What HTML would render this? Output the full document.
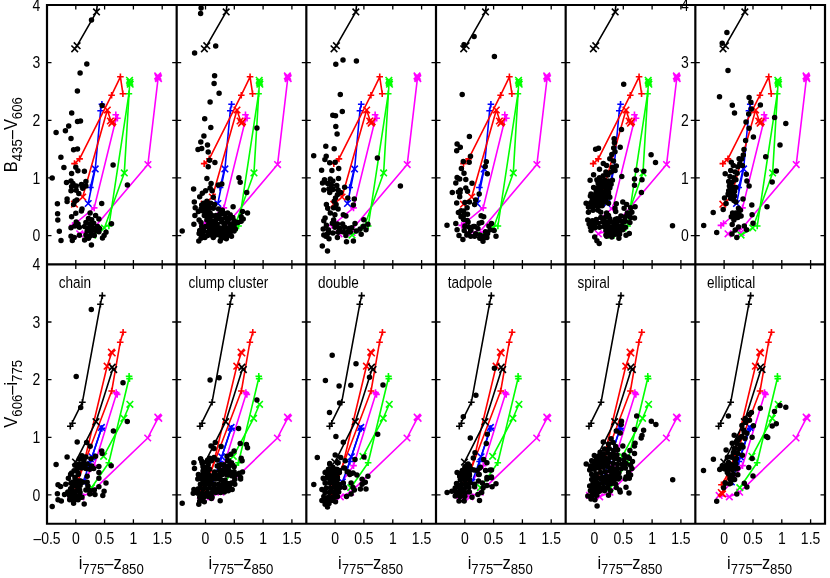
<!DOCTYPE html>
<html><head><meta charset="utf-8"><title>colour-colour diagrams</title>
<style>html,body{margin:0;padding:0;background:#fff}svg{display:block}text{font-family:"Liberation Sans",sans-serif;fill:#000}</style></head><body>
<svg width="830" height="578" viewBox="0 0 830 578">
<rect width="830" height="578" fill="#fff"/>
<defs>
<clipPath id="ct"><rect x="47.00" y="5.00" width="129.67" height="259.40"/></clipPath>
<clipPath id="cb"><rect x="47.00" y="264.40" width="129.67" height="259.35"/></clipPath>
<g id="tt" fill="none" stroke-width="1.6" stroke-linejoin="round" clip-path="url(#ct)"><path d="M158.2 77.3L147.9 164.6L92.7 229.5L79.7 233.8M154.4 72.6L161.0 79.2M154.4 79.2L161.0 72.6M154.8 73.9L161.4 80.5M154.8 80.5L161.4 73.9M155.2 75.3L161.8 81.9M155.2 81.9L161.8 75.3M144.6 161.3L151.2 167.9M144.6 167.9L151.2 161.3M89.4 229.2L96.0 235.8M89.4 235.8L96.0 229.2M76.4 230.5L83.0 237.1M76.4 237.1L83.0 230.5" stroke="#f0f"/><path d="M116.6 116.5L94.2 207.9L75.2 223.5L72.6 225.4M112.5 114.7H119.1M115.8 111.4V118.0M114.1 118.3H120.7M117.4 115.0V121.6M90.9 207.9H97.5M94.2 204.6V211.2M71.9 223.5H78.5M75.2 220.2V226.8M69.3 225.4H75.9M72.6 222.1V228.7" stroke="#f0f"/><path d="M129.8 81.5L124.3 172.9L104.4 228.0L92.7 235.1M126.2 77.0L132.8 83.6M126.2 83.6L132.8 77.0M126.6 79.0L133.2 85.6M126.6 85.6L133.2 79.0M126.9 80.9L133.5 87.5M126.9 87.5L133.5 80.9M121.0 169.6L127.6 176.2M121.0 176.2L127.6 169.6M101.1 224.7L107.7 231.3M101.1 231.3L107.7 224.7M89.4 231.8L96.0 238.4M89.4 238.4L96.0 231.8" stroke="#0f0"/><path d="M128.9 93.8L108.9 226.0M125.6 93.8H132.2M128.9 90.5V97.1M105.6 226.0H112.2M108.9 222.7V229.3" stroke="#0f0"/><path d="M95.2 168.9L88.2 203.5M91.9 165.6L98.5 172.2M91.9 172.2L98.5 165.6M84.9 200.2L91.5 206.8M84.9 206.8L91.5 200.2" stroke="#00f"/><path d="M101.9 104.2L100.6 110.7L95.5 166.5L90.4 187.5M98.6 104.2H105.2M101.9 100.9V107.5M97.3 110.7H103.9M100.6 107.4V114.0M87.1 187.5H93.7M90.4 184.2V190.8" stroke="#00f"/><path d="M74.5 163.6L79.6 158.9L111.6 95.2L120.4 76.8L122.9 93.7M71.2 163.6H77.8M74.5 160.3V166.9M76.3 158.9H82.9M79.6 155.6V162.2M108.3 95.2H114.9M111.6 91.9V98.5M117.1 76.8H123.7M120.4 73.5V80.1M119.6 93.7H126.2M122.9 90.4V97.0" stroke="#f00"/><path d="M111.6 123.0L107.3 110.0L82.7 197.0L74.5 204.2M107.1 117.7L113.7 124.3M107.1 124.3L113.7 117.7M108.5 119.9L115.1 126.5M108.5 126.5L115.1 119.9M109.5 118.5L116.1 125.1M109.5 125.1L116.1 118.5M104.0 106.7L110.6 113.3M104.0 113.3L110.6 106.7M79.4 193.7L86.0 200.3M79.4 200.3L86.0 193.7M71.2 200.9L77.8 207.5M71.2 207.5L77.8 200.9" stroke="#f00"/><path d="M74.7 48.8L77.1 45.7L96.5 11.9L97.3 4.5M71.4 45.5L78.0 52.1M71.4 52.1L78.0 45.5M73.8 42.4L80.4 49.0M73.8 49.0L80.4 42.4M93.2 8.6L99.8 15.2M93.2 15.2L99.8 8.6" stroke="#000"/></g>
<g id="tb" fill="none" stroke-width="1.6" stroke-linejoin="round" clip-path="url(#cb)"><path d="M158.3 417.7L147.7 438.0L91.3 492.2L81.0 496.8L70.8 495.4M154.5 413.8L161.1 420.4M154.5 420.4L161.1 413.8M155.0 414.4L161.6 421.0M155.0 421.0L161.6 414.4M155.5 415.0L162.1 421.6M155.5 421.6L162.1 415.0M144.4 434.7L151.0 441.3M144.4 441.3L151.0 434.7M88.0 488.9L94.6 495.5M88.0 495.5L94.6 488.9M77.7 493.5L84.3 500.1M77.7 500.1L84.3 493.5M67.5 492.1L74.1 498.7M67.5 498.7L74.1 492.1" stroke="#f0f"/><path d="M116.6 393.4L94.2 465.6L78.9 487.0L70.8 495.4M112.9 392.6H119.5M116.2 389.3V395.9M113.9 394.4H120.5M117.2 391.1V397.7M90.9 465.6H97.5M94.2 462.3V468.9" stroke="#f0f"/><path d="M129.9 404.3L123.9 418.3L103.6 456.3M126.6 401.0L133.2 407.6M126.6 407.6L133.2 401.0M120.6 415.0L127.2 421.6M120.6 421.6L127.2 415.0M100.3 453.0L106.9 459.6M100.3 459.6L106.9 453.0M88.2 484.4L94.8 491.0M88.2 491.0L94.8 484.4" stroke="#0f0"/><path d="M129.3 377.2L108.8 462.8L91.5 487.7M125.8 376.2H132.4M129.1 372.9V379.5M126.2 378.6H132.8M129.5 375.3V381.9M105.5 462.8H112.1M108.8 459.5V466.1" stroke="#0f0"/><path d="M101.6 427.8L92.0 456.8L86.5 472.5L83.0 482.0M98.1 424.1L104.7 430.7M98.1 430.7L104.7 424.1M88.7 453.5L95.3 460.1M88.7 460.1L95.3 453.5M79.7 478.7L86.3 485.3M79.7 485.3L86.3 478.7" stroke="#00f"/><path d="M101.7 428.0L92.2 456.6L90.6 461.5L87.6 470.5M98.6 428.4H105.2M101.9 425.1V431.7M87.3 461.5H93.9M90.6 458.2V464.8" stroke="#00f"/><path d="M123.1 332.3L120.2 342.3L111.7 391.0L84.5 462.8L76.9 478.8L73.1 484.8M119.8 332.3H126.4M123.1 329.0V335.6M116.9 342.3H123.5M120.2 339.0V345.6M108.4 391.0H115.0M111.7 387.7V394.3M69.8 484.8H76.4M73.1 481.5V488.1" stroke="#f00"/><path d="M111.8 352.6L107.1 366.2L83.1 466.7L73.6 493.3M108.1 348.9L114.7 355.5M108.1 355.5L114.7 348.9M108.9 349.7L115.5 356.3M108.9 356.3L115.5 349.7M103.8 362.9L110.4 369.5M103.8 369.5L110.4 362.9M69.7 489.3L76.3 495.9M69.7 495.9L76.3 489.3M70.3 490.0L76.9 496.6M70.3 496.6L76.9 490.0M70.9 490.7L77.5 497.3M70.9 497.3L77.5 490.7" stroke="#f00"/><path d="M113.0 368.2L96.0 421.7L75.5 462.1M108.9 363.9L115.5 370.5M108.9 370.5L115.5 363.9M110.4 366.3L117.0 372.9M110.4 372.9L117.0 366.3M92.7 418.4L99.3 425.0M92.7 425.0L99.3 418.4M72.2 458.8L78.8 465.4M72.2 465.4L78.8 458.8" stroke="#000"/><path d="M102.3 295.6L100.4 304.3L82.4 402.2L71.2 424.6M99.0 295.6H105.6M102.3 292.3V298.9M97.1 304.3H103.7M100.4 301.0V307.6M79.1 402.2H85.7M82.4 398.9V405.5M67.0 426.2H73.6M70.3 422.9V429.5M69.2 423.2H75.8M72.5 419.9V426.5" stroke="#000"/></g>
</defs>
<use href="#tt" x="0.00"/>
<use href="#tb" x="0.00"/>
<use href="#tt" x="129.67"/>
<use href="#tb" x="129.67"/>
<use href="#tt" x="259.33"/>
<use href="#tb" x="259.33"/>
<use href="#tt" x="389.00"/>
<use href="#tb" x="389.00"/>
<use href="#tt" x="518.67"/>
<use href="#tb" x="518.67"/>
<use href="#tt" x="648.34"/>
<use href="#tb" x="648.34"/>
<path d="M91.5 20.1h0M86.8 63.9h0M80.1 73.1h0M77.4 91.1h0M102.1 105.5h0M71.7 113.0h0M77.5 121.6h0M80.5 121.0h0M68.7 126.1h0M65.4 130.8h0M56.1 132.6h0M71.0 138.4h0M73.6 149.8h0M77.5 148.9h0M60.9 157.2h0M63.9 167.6h0M75.8 167.3h0M77.9 170.8h0M84.4 171.2h0M71.6 173.4h0M113.1 165.0h0M52.2 178.1h0M66.5 182.6h0M71.0 181.0h0M72.9 183.6h0M85.9 181.6h0M81.4 184.5h0M127.4 185.1h0M71.6 186.6h0M76.2 186.0h0M82.0 186.6h0M85.9 186.0h0M71.0 190.8h0M76.2 190.2h0M78.8 193.4h0M82.7 188.2h0M67.1 199.0h0M67.1 201.6h0M74.9 201.2h0M73.6 204.5h0M76.8 199.9h0M57.4 203.8h0M82.0 209.0h0M81.4 210.9h0M101.7 203.5h0M57.6 213.8h0M75.8 213.3h0M71.6 216.8h0M90.1 212.9h0M57.8 220.0h0M95.6 215.5h0M98.9 219.0h0M88.5 218.5h0M91.7 219.8h0M85.9 222.6h0M89.8 223.9h0M93.7 223.3h0M76.2 222.0h0M78.1 223.9h0M74.9 225.9h0M71.0 227.8h0M79.4 227.2h0M84.6 226.5h0M88.5 227.8h0M92.4 227.2h0M97.6 226.5h0M99.5 228.5h0M111.5 223.7h0M59.3 231.3h0M87.2 231.0h0M91.1 231.7h0M95.6 230.4h0M98.9 231.7h0M106.0 232.3h0M104.1 235.6h0M102.5 237.9h0M71.0 236.2h0M74.2 237.5h0M72.3 240.5h0M79.4 235.3h0M85.9 234.9h0M89.8 236.2h0M94.3 235.6h0M84.6 240.1h0M88.5 238.2h0M61.0 240.5h0M91.4 244.9h0" stroke="#000" stroke-width="5.5" stroke-linecap="round" fill="none"/>
<path d="M91.3 309.6h0M76.2 376.4h0M123.0 382.7h0M80.7 407.5h0M127.3 421.6h0M113.4 430.9h0M77.2 442.0h0M86.6 442.4h0M90.2 446.2h0M101.7 451.0h0M102.1 453.6h0M67.1 456.9h0M82.0 455.8h0M85.9 456.9h0M95.6 456.2h0M79.4 458.8h0M84.0 459.5h0M91.1 458.8h0M56.1 464.4h0M74.9 465.3h0M78.8 464.0h0M82.7 463.4h0M87.2 464.0h0M91.7 466.0h0M98.9 466.6h0M111.2 465.7h0M77.5 468.6h0M81.4 467.9h0M85.9 468.6h0M89.8 469.2h0M93.7 468.6h0M71.6 473.1h0M78.1 473.1h0M98.9 472.4h0M68.4 478.3h0M74.9 477.6h0M87.2 476.3h0M98.9 478.3h0M106.0 483.1h0M58.0 484.8h0M60.6 486.5h0M65.8 484.2h0M98.9 486.8h0M71.0 482.9h0M74.9 482.2h0M78.8 480.9h0M82.7 482.2h0M87.2 482.2h0M72.3 486.8h0M76.2 486.1h0M80.1 485.5h0M87.9 486.1h0M104.1 491.3h0M85.9 490.0h0M90.5 490.7h0M94.3 490.0h0M67.8 492.0h0M72.3 491.3h0M76.8 490.7h0M80.1 492.6h0M57.4 493.7h0M64.5 494.6h0M69.7 495.9h0M74.2 495.2h0M78.1 496.5h0M82.0 497.2h0M89.8 493.9h0M95.0 494.6h0M102.8 495.5h0M58.0 499.7h0M61.3 501.0h0M69.7 499.7h0M74.2 499.7h0M78.1 499.7h0M73.6 503.2h0M84.2 503.9h0M52.2 506.5h0M70.6 474.2h0M75.1 477.6h0M78.5 474.2h0M72.9 482.1h0M77.4 485.5h0M80.7 481.0h0M70.6 488.8h0M75.1 492.2h0M79.6 490.0h0M71.7 496.7h0M76.2 499.0h0M80.7 496.7h0M74.0 470.8h0M83.0 467.5h0" stroke="#000" stroke-width="5.5" stroke-linecap="round" fill="none"/>
<path d="M201.1 7.9h0M200.6 13.5h0M215.7 45.9h0M194.6 52.9h0M214.6 75.8h0M214.1 83.5h0M219.1 93.2h0M210.1 101.9h0M204.7 118.8h0M210.8 127.4h0M256.9 128.0h0M203.9 136.0h0M200.8 142.0h0M207.5 145.0h0M198.0 149.4h0M201.7 148.5h0M208.2 152.0h0M209.5 160.2h0M214.9 162.5h0M208.2 166.7h0M206.9 178.4h0M238.9 177.7h0M240.2 182.3h0M211.1 183.6h0M218.3 184.9h0M221.8 183.9h0M193.6 189.1h0M210.1 188.1h0M205.6 190.7h0M212.1 190.7h0M202.3 193.3h0M246.7 192.6h0M199.7 196.7h0M213.3 197.3h0M194.3 201.9h0M206.9 201.2h0M210.8 203.2h0M214.6 204.5h0M201.7 205.1h0M204.9 206.4h0M195.2 207.7h0M233.1 206.8h0M218.5 209.0h0M222.4 210.3h0M198.4 211.6h0M203.0 210.9h0M208.2 210.3h0M210.1 212.9h0M194.9 215.5h0M204.3 215.5h0M208.8 216.8h0M242.5 211.6h0M247.5 212.9h0M215.9 215.5h0M219.8 214.2h0M223.7 213.5h0M227.6 212.9h0M230.2 214.8h0M241.2 216.8h0M243.2 219.0h0M241.2 221.3h0M238.0 222.6h0M199.1 220.0h0M201.0 222.6h0M193.9 224.2h0M206.9 220.0h0M211.4 220.7h0M215.9 219.4h0M220.5 218.7h0M221.8 222.0h0M228.9 218.7h0M232.8 217.4h0M234.1 220.7h0M208.8 223.9h0M213.3 223.9h0M217.2 223.9h0M230.2 223.9h0M234.1 225.2h0M201.7 226.5h0M205.6 226.5h0M209.5 227.8h0M214.6 227.8h0M219.2 227.8h0M223.7 227.2h0M228.3 227.8h0M232.2 228.5h0M235.4 229.1h0M182.2 231.0h0M199.7 230.4h0M203.6 231.0h0M208.2 231.7h0M212.7 231.7h0M217.2 231.7h0M221.8 231.7h0M226.3 231.7h0M230.2 232.3h0M234.1 231.0h0M199.1 233.6h0M203.0 234.9h0M207.5 235.6h0M212.1 235.6h0M215.9 234.9h0M220.5 235.6h0M225.0 234.9h0M228.9 234.9h0M231.5 236.2h0M201.0 238.2h0M204.9 237.5h0M213.3 237.5h0M221.1 238.8h0M226.3 238.8h0M198.8 241.0h0M220.2 241.0h0M203.6 203.2h0M208.8 207.0h0M201.0 209.0h0M206.2 212.9h0M213.3 208.3h0M212.1 215.5h0M225.0 217.4h0M227.0 222.0h0M224.4 223.9h0M204.9 209.6h0M206.9 204.5h0" stroke="#000" stroke-width="5.5" stroke-linecap="round" fill="none"/>
<path d="M210.1 380.0h0M219.1 377.8h0M256.9 400.0h0M238.6 428.6h0M215.3 442.4h0M211.0 445.9h0M214.0 448.5h0M221.1 446.5h0M240.2 443.5h0M246.4 444.6h0M247.5 447.8h0M234.1 451.0h0M230.9 454.3h0M227.0 456.2h0M241.2 458.2h0M242.1 460.8h0M200.6 458.8h0M209.5 458.2h0M214.0 457.5h0M217.2 460.1h0M193.9 462.7h0M202.3 463.4h0M206.9 462.1h0M211.4 460.8h0M228.9 460.8h0M232.8 465.3h0M194.5 468.6h0M206.9 467.3h0M217.2 466.0h0M221.1 464.7h0M225.0 466.0h0M203.0 471.1h0M207.5 472.4h0M219.8 469.9h0M223.7 469.9h0M228.3 469.2h0M242.5 472.1h0M234.1 471.8h0M198.4 478.3h0M203.0 476.3h0M207.5 477.0h0M212.1 475.7h0M216.6 475.0h0M221.1 474.4h0M225.7 473.7h0M230.2 475.0h0M234.8 478.9h0M240.6 477.6h0M197.8 479.0h0M202.3 479.6h0M206.9 480.3h0M211.4 479.6h0M215.9 479.0h0M220.5 479.6h0M225.0 480.3h0M240.6 479.0h0M234.8 479.6h0M200.4 484.2h0M204.9 484.2h0M209.5 484.2h0M214.0 484.2h0M218.5 484.2h0M223.1 484.2h0M227.6 483.5h0M231.5 482.9h0M234.8 484.2h0M193.9 489.4h0M198.4 488.7h0M203.0 488.7h0M207.5 488.7h0M212.1 488.7h0M216.6 488.7h0M221.1 488.1h0M225.7 487.4h0M229.6 486.8h0M232.2 489.4h0M193.2 493.3h0M197.8 493.3h0M202.3 493.3h0M206.9 493.3h0M211.4 493.3h0M215.9 492.6h0M220.5 492.6h0M224.4 492.0h0M228.3 490.7h0M199.7 497.2h0M203.6 497.2h0M208.2 496.5h0M212.1 497.2h0M199.7 501.0h0M204.3 501.7h0M211.4 498.5h0M220.2 500.7h0M198.8 504.3h0M182.2 503.2h0M204.9 470.6h0M209.5 469.3h0M214.6 471.9h0M219.8 470.6h0M224.4 469.3h0M228.9 470.6h0M232.8 472.5h0M198.4 474.5h0M203.0 475.1h0M208.2 474.5h0M212.7 475.8h0M217.9 475.1h0M222.4 474.5h0M227.0 475.1h0M231.5 475.8h0M236.0 474.5h0M239.3 473.2h0M203.0 466.7h0M208.2 464.7h0M218.5 465.4h0M223.7 464.7h0M228.9 466.0h0M234.1 466.7h0M201.7 461.5h0M207.5 460.2h0M212.1 458.9h0M227.6 460.8h0M231.5 462.8h0" stroke="#000" stroke-width="5.5" stroke-linecap="round" fill="none"/>
<path d="M343.0 59.9h0M356.4 61.0h0M335.8 64.2h0M340.3 94.5h0M342.3 111.6h0M332.8 115.2h0M335.5 115.7h0M335.8 126.5h0M337.1 134.0h0M325.8 146.2h0M334.2 148.8h0M313.7 155.7h0M326.2 156.3h0M324.9 159.6h0M329.7 162.8h0M335.2 162.2h0M377.4 158.0h0M338.7 168.6h0M321.6 170.3h0M331.9 170.6h0M338.5 178.6h0M324.5 179.7h0M330.3 179.0h0M332.9 181.0h0M322.5 182.9h0M327.7 183.6h0M331.6 184.9h0M336.8 185.5h0M400.4 186.1h0M344.6 187.2h0M323.8 190.0h0M329.0 188.7h0M332.9 189.4h0M338.1 190.0h0M329.7 192.6h0M340.7 192.6h0M337.4 194.7h0M335.5 198.0h0M347.8 198.0h0M354.3 199.0h0M334.2 201.2h0M336.1 204.5h0M326.4 204.5h0M327.7 208.3h0M353.4 205.1h0M338.1 209.0h0M333.6 207.7h0M330.3 212.9h0M334.9 214.8h0M343.3 214.8h0M345.9 216.1h0M325.1 218.1h0M323.8 220.7h0M333.6 220.0h0M363.8 219.8h0M332.3 223.3h0M337.4 223.9h0M342.6 223.9h0M355.0 223.5h0M367.9 224.3h0M363.4 226.2h0M326.4 225.2h0M323.2 229.1h0M328.4 229.7h0M334.9 227.2h0M339.4 228.5h0M344.6 227.2h0M349.1 228.5h0M351.7 227.8h0M366.0 229.7h0M360.1 229.1h0M356.3 231.0h0M361.2 234.3h0M323.8 234.9h0M327.7 233.6h0M332.9 233.0h0M338.1 232.3h0M342.6 231.7h0M347.2 232.3h0M350.4 231.7h0M345.9 235.6h0M337.4 237.5h0M329.0 238.8h0M325.8 236.2h0M346.5 241.8h0M353.4 241.0h0M322.3 246.0h0M327.5 251.1h0" stroke="#000" stroke-width="5.5" stroke-linecap="round" fill="none"/>
<path d="M332.2 355.3h0M356.0 363.8h0M369.5 377.3h0M325.4 380.5h0M339.1 386.1h0M350.8 385.2h0M383.0 385.0h0M339.6 403.0h0M329.5 412.4h0M377.7 434.2h0M335.9 436.4h0M343.3 442.2h0M335.2 454.9h0M317.3 457.5h0M340.7 457.5h0M345.2 460.8h0M355.0 459.5h0M364.0 456.9h0M329.7 463.4h0M337.4 462.7h0M332.9 467.3h0M328.4 469.2h0M336.8 469.2h0M343.9 467.9h0M325.1 472.4h0M331.0 471.8h0M334.9 473.1h0M339.4 472.4h0M347.2 471.8h0M353.0 473.1h0M356.9 475.0h0M367.9 476.3h0M323.2 478.3h0M327.7 477.0h0M332.9 476.3h0M337.4 477.6h0M349.8 474.4h0M362.1 479.3h0M323.8 479.0h0M328.4 478.3h0M332.9 479.0h0M337.4 479.6h0M365.3 482.2h0M362.1 484.2h0M313.8 484.6h0M351.1 482.9h0M325.1 482.9h0M329.7 482.9h0M334.2 483.5h0M338.7 484.2h0M343.3 482.9h0M321.9 489.4h0M326.4 488.1h0M331.0 488.1h0M335.5 488.1h0M340.0 487.4h0M344.6 487.4h0M353.0 487.4h0M354.3 490.0h0M360.4 489.0h0M366.0 489.1h0M325.1 492.6h0M329.7 492.6h0M334.2 492.6h0M338.7 492.0h0M351.1 493.9h0M346.5 496.5h0M323.8 496.5h0M328.4 497.2h0M332.9 497.2h0M337.4 496.5h0M321.9 500.4h0M326.4 501.0h0M331.0 500.4h0M335.5 501.7h0M325.1 504.3h0M329.0 503.6h0M327.5 506.9h0M325.8 471.9h0M330.3 470.6h0M334.9 469.3h0M339.4 470.6h0M344.6 468.0h0M327.7 475.1h0M332.3 474.5h0M336.8 474.5h0M348.5 471.9h0M352.4 473.2h0M356.9 475.1h0M329.7 464.1h0M338.1 462.8h0" stroke="#000" stroke-width="5.5" stroke-linecap="round" fill="none"/>
<path d="M474.1 36.5h0M464.0 44.8h0M494.4 56.5h0M462.2 94.5h0M469.4 136.6h0M457.1 144.0h0M460.3 147.2h0M456.7 150.7h0M470.5 156.3h0M463.3 161.5h0M469.2 162.2h0M486.3 161.8h0M485.2 166.4h0M461.4 168.6h0M464.0 173.2h0M487.3 173.8h0M457.1 177.5h0M459.7 179.0h0M465.8 179.4h0M455.8 182.9h0M472.0 183.3h0M465.8 188.1h0M460.3 190.0h0M467.5 191.3h0M452.3 192.4h0M458.4 192.0h0M479.2 193.9h0M459.7 196.7h0M475.7 199.9h0M474.6 204.5h0M456.7 202.9h0M464.9 202.5h0M469.4 201.9h0M467.1 207.7h0M463.6 210.9h0M458.4 212.5h0M467.5 214.2h0M461.0 216.8h0M481.1 215.7h0M483.7 216.8h0M463.6 219.4h0M468.1 222.0h0M455.8 223.5h0M447.0 225.2h0M479.2 223.3h0M481.7 222.6h0M491.5 223.5h0M488.9 225.9h0M464.9 225.9h0M469.4 227.2h0M474.6 226.5h0M477.9 228.5h0M457.1 229.7h0M464.2 230.4h0M470.7 230.4h0M494.1 230.4h0M490.2 229.7h0M485.6 231.7h0M487.6 233.6h0M459.0 235.6h0M466.8 234.9h0M470.7 236.2h0M474.6 236.2h0M479.8 234.9h0M483.7 236.2h0M496.0 236.2h0M462.9 239.5h0M479.8 238.2h0M486.9 237.5h0M483.0 241.2h0M463.6 215.6h0M467.3 220.5h0M464.8 226.5h0M470.9 230.2h0M475.7 233.8h0M468.5 233.8h0M473.3 226.5h0M461.2 210.8h0M460.0 192.6h0" stroke="#000" stroke-width="5.5" stroke-linecap="round" fill="none"/>
<path d="M494.4 368.3h0M475.9 395.3h0M463.3 416.7h0M470.3 438.1h0M487.3 434.2h0M486.3 443.5h0M475.0 452.7h0M473.3 457.9h0M483.7 459.5h0M486.9 462.7h0M468.1 464.0h0M464.9 466.6h0M480.4 467.3h0M457.1 472.4h0M462.3 470.5h0M466.8 469.9h0M471.4 469.2h0M477.2 470.5h0M485.6 470.5h0M491.5 469.9h0M459.7 476.3h0M464.9 475.0h0M469.4 474.4h0M479.2 474.4h0M486.9 477.6h0M491.5 477.0h0M462.9 478.9h0M468.1 478.3h0M460.3 479.6h0M464.9 480.3h0M469.4 479.6h0M486.9 479.0h0M491.5 477.7h0M478.5 480.9h0M482.4 482.9h0M496.0 483.8h0M492.1 486.8h0M456.5 483.5h0M461.0 484.2h0M465.5 484.2h0M470.1 482.9h0M474.6 484.2h0M486.9 485.5h0M483.0 488.1h0M455.2 488.1h0M459.7 488.1h0M464.2 488.7h0M468.8 487.4h0M474.6 486.8h0M447.1 492.6h0M451.9 491.3h0M456.5 492.6h0M461.0 492.6h0M465.5 492.6h0M469.4 492.0h0M481.7 492.6h0M477.9 494.6h0M455.2 495.9h0M460.3 496.5h0M464.9 496.5h0M472.0 497.2h0M479.5 500.4h0M459.0 501.0h0M464.2 501.0h0M460.3 473.2h0M464.9 471.9h0M469.4 471.2h0M474.0 469.9h0M479.8 468.0h0M478.5 474.5h0M490.2 469.9h0M485.6 470.6h0M459.7 476.4h0M464.9 476.4h0M469.4 475.8h0M465.5 467.3h0M469.4 465.4h0" stroke="#000" stroke-width="5.5" stroke-linecap="round" fill="none"/>
<path d="M623.7 84.2h0M621.5 129.4h0M614.1 138.8h0M614.4 142.7h0M620.2 147.2h0M613.7 147.9h0M595.6 149.2h0M598.5 148.3h0M615.0 151.8h0M611.8 154.4h0M651.1 154.8h0M609.8 158.7h0M613.5 160.9h0M655.5 162.5h0M603.3 163.5h0M606.6 165.4h0M616.3 166.0h0M612.4 167.3h0M599.5 169.3h0M636.4 170.2h0M643.8 171.2h0M615.0 170.6h0M611.1 171.9h0M593.6 174.7h0M605.9 171.9h0M607.9 175.1h0M621.8 176.4h0M603.3 175.8h0M599.5 177.7h0M596.9 179.7h0M634.5 179.0h0M642.0 179.7h0M590.1 180.3h0M612.4 180.3h0M608.5 181.0h0M604.6 180.3h0M600.8 181.6h0M598.2 183.6h0M602.7 184.2h0M607.2 184.9h0M611.1 184.2h0M634.5 185.2h0M593.6 187.4h0M597.5 188.1h0M601.4 188.1h0M605.9 188.1h0M609.8 188.1h0M641.4 192.6h0M591.0 193.9h0M596.2 192.6h0M600.8 192.0h0M605.3 192.0h0M608.5 192.0h0M590.4 196.0h0M594.9 194.7h0M599.5 194.1h0M604.0 194.1h0M608.5 194.1h0M592.3 199.3h0M596.9 198.6h0M601.4 198.0h0M605.9 198.0h0M609.8 197.3h0M586.1 203.2h0M591.0 202.5h0M595.6 202.5h0M600.1 201.9h0M604.6 201.9h0M608.5 203.2h0M616.3 203.8h0M622.8 202.1h0M626.7 204.5h0M588.4 207.0h0M593.0 206.4h0M597.5 206.4h0M602.1 205.8h0M635.1 206.8h0M630.6 207.7h0M624.1 208.3h0M615.0 208.3h0M615.7 211.6h0M588.4 212.2h0M593.0 210.3h0M598.2 210.3h0M600.8 212.2h0M631.9 212.2h0M627.3 212.9h0M606.6 212.9h0M608.5 215.5h0M620.9 216.1h0M625.4 216.8h0M630.6 217.4h0M634.5 218.1h0M587.8 220.0h0M592.3 220.7h0M596.2 219.4h0M600.8 217.4h0M604.6 218.1h0M609.8 218.7h0M617.0 218.7h0M589.1 223.9h0M593.6 223.9h0M598.2 223.3h0M602.7 222.0h0M607.2 222.6h0M611.8 222.0h0M616.3 222.6h0M620.9 221.3h0M625.4 221.3h0M629.9 222.6h0M590.4 227.2h0M594.9 227.8h0M599.5 227.2h0M604.0 226.5h0M608.5 226.5h0M613.1 226.5h0M617.6 226.5h0M622.2 225.9h0M625.4 227.2h0M591.0 230.4h0M605.9 230.4h0M610.5 230.4h0M615.0 230.4h0M618.9 230.4h0M622.8 229.7h0M629.3 233.6h0M626.0 235.3h0M605.9 234.9h0M610.5 234.3h0M615.0 234.3h0M619.6 234.3h0M611.8 236.9h0M618.9 238.2h0M606.6 236.2h0M594.7 236.9h0M596.9 240.8h0M599.2 243.4h0M672.5 225.8h0M597.3 180.5h0M600.9 185.4h0M604.6 181.7h0M596.1 190.2h0M603.4 192.6h0M599.7 197.5h0M607.0 189.0h0M593.7 199.9h0M602.1 202.3h0M597.3 206.0h0M605.8 199.9h0M591.2 195.1h0M605.8 216.9h0M610.6 221.7h0M615.5 219.3h0M607.0 226.5h0M613.0 229.0h0M619.1 226.5h0M622.7 221.7h0M609.4 233.8h0M616.7 232.6h0M603.4 221.7h0M625.1 216.9h0M628.8 213.2h0" stroke="#000" stroke-width="5.5" stroke-linecap="round" fill="none"/>
<path d="M672.7 479.8h0M636.7 416.0h0M621.5 421.2h0M621.2 424.5h0M651.3 421.2h0M655.9 424.5h0M634.5 429.6h0M643.6 430.3h0M616.3 430.9h0M620.2 432.9h0M642.0 435.5h0M641.2 438.1h0M603.3 442.0h0M635.1 443.3h0M634.5 445.9h0M622.8 445.9h0M611.1 438.7h0M613.1 442.6h0M608.5 443.9h0M615.7 446.5h0M629.9 450.4h0M634.5 453.6h0M600.1 452.3h0M604.6 449.1h0M609.2 448.5h0M613.7 450.4h0M617.6 449.7h0M594.3 455.6h0M598.8 456.2h0M603.3 454.3h0M607.9 453.0h0M612.4 454.3h0M617.0 454.9h0M624.1 454.9h0M628.0 456.9h0M591.7 460.8h0M596.2 460.1h0M600.8 458.8h0M605.3 458.2h0M609.8 457.5h0M614.4 458.8h0M618.9 459.5h0M624.1 459.5h0M629.3 458.2h0M632.5 461.4h0M586.2 464.0h0M590.4 466.0h0M594.9 464.7h0M599.5 463.4h0M604.0 462.7h0M608.5 462.1h0M613.1 463.4h0M617.6 464.0h0M622.2 464.0h0M626.0 463.4h0M630.6 465.3h0M589.7 469.9h0M594.3 469.2h0M598.8 467.9h0M603.3 467.3h0M607.9 466.6h0M612.4 467.9h0M617.0 468.6h0M621.5 468.6h0M625.4 467.9h0M631.9 468.6h0M591.7 474.4h0M596.2 473.7h0M600.8 472.4h0M605.3 471.8h0M609.8 471.1h0M614.4 472.4h0M618.9 473.1h0M628.6 472.4h0M630.6 475.0h0M593.0 478.3h0M597.5 477.6h0M602.1 477.0h0M606.6 476.3h0M611.1 475.7h0M615.7 477.0h0M619.6 477.6h0M626.0 477.0h0M629.3 478.3h0M591.7 479.6h0M596.2 479.0h0M600.8 479.0h0M605.3 479.0h0M609.8 479.0h0M614.4 479.6h0M618.3 479.0h0M625.4 479.0h0M628.6 476.4h0M593.0 482.9h0M597.5 483.5h0M602.1 482.9h0M606.6 482.9h0M611.1 483.5h0M615.7 484.2h0M589.7 486.1h0M594.3 487.4h0M598.8 487.4h0M603.3 487.4h0M607.9 487.4h0M616.3 487.4h0M626.0 487.2h0M619.6 490.0h0M620.2 492.0h0M629.0 493.0h0M590.4 490.7h0M594.9 491.3h0M599.5 491.3h0M604.6 490.7h0M610.5 490.7h0M587.8 495.9h0M592.3 495.2h0M596.9 495.2h0M608.5 495.2h0M591.0 499.1h0M594.9 499.7h0M597.1 506.0h0" stroke="#000" stroke-width="5.5" stroke-linecap="round" fill="none"/>
<path d="M726.9 32.4h0M722.2 43.2h0M728.0 70.4h0M719.5 96.8h0M749.1 97.4h0M750.9 102.2h0M732.3 105.3h0M760.4 104.9h0M751.4 108.9h0M748.7 114.1h0M734.5 113.0h0M774.6 117.5h0M746.0 122.0h0M785.8 123.5h0M749.1 128.3h0M753.4 137.1h0M745.6 140.4h0M780.0 145.0h0M744.0 149.4h0M743.3 155.0h0M765.7 156.7h0M739.1 158.7h0M741.7 158.9h0M731.3 162.2h0M733.3 165.4h0M739.8 163.5h0M742.4 165.4h0M737.8 166.7h0M776.3 171.0h0M730.7 170.6h0M735.2 171.9h0M737.2 173.2h0M725.2 173.8h0M746.3 174.2h0M730.0 176.4h0M733.9 177.7h0M735.9 179.7h0M746.9 181.0h0M772.2 182.0h0M728.7 181.6h0M732.0 182.3h0M749.1 185.9h0M729.4 186.1h0M732.6 186.8h0M735.9 187.4h0M728.7 190.7h0M732.0 190.7h0M734.6 191.3h0M728.1 193.9h0M731.3 193.9h0M728.7 194.7h0M732.0 194.1h0M734.6 196.0h0M724.5 198.0h0M743.0 199.0h0M730.7 198.6h0M733.9 200.6h0M735.9 201.9h0M726.1 203.4h0M751.8 205.1h0M767.0 206.7h0M723.2 209.6h0M738.5 208.3h0M740.4 210.3h0M713.2 212.5h0M732.6 212.9h0M735.9 212.9h0M739.1 214.2h0M741.1 216.1h0M752.1 214.8h0M731.3 216.8h0M735.2 217.4h0M737.8 217.4h0M733.9 220.0h0M753.0 223.3h0M732.2 224.6h0M703.7 225.5h0M738.5 226.9h0M744.3 225.9h0M735.2 230.1h0M746.6 229.7h0M716.7 232.6h0M732.0 234.0h0M736.8 237.5h0" stroke="#000" stroke-width="5.5" stroke-linecap="round" fill="none"/>
<path d="M780.0 405.4h0M785.8 407.3h0M760.3 408.2h0M774.5 411.6h0M751.4 412.5h0M749.5 414.5h0M728.4 416.0h0M749.5 420.3h0M745.6 422.2h0M776.3 423.8h0M772.2 426.1h0M753.4 425.7h0M743.7 430.0h0M746.9 433.3h0M734.2 435.2h0M752.1 437.2h0M766.4 436.5h0M767.7 437.5h0M741.7 436.5h0M738.5 439.7h0M745.0 438.5h0M732.2 443.2h0M737.2 443.6h0M741.7 444.9h0M726.1 450.1h0M734.6 448.2h0M739.1 448.8h0M743.0 446.9h0M733.3 452.7h0M737.8 453.4h0M742.4 455.3h0M727.4 457.3h0M732.0 457.3h0M736.5 458.6h0M752.1 458.6h0M713.4 459.2h0M722.3 465.7h0M726.8 465.0h0M731.3 464.4h0M735.9 463.7h0M748.8 467.6h0M703.5 470.5h0M720.3 468.9h0M724.9 468.9h0M730.0 468.3h0M734.6 467.6h0M737.8 468.3h0M719.7 469.6h0M727.4 470.3h0M732.0 469.6h0M736.5 469.0h0M728.7 474.2h0M733.3 474.2h0M737.8 474.8h0M753.0 475.9h0M730.0 478.7h0M734.6 479.4h0M725.5 483.3h0M730.7 483.3h0M744.3 483.3h0M746.9 486.9h0M723.6 487.8h0M736.8 494.0h0M716.7 501.2h0M745.3 418.6h0M741.9 425.4h0M744.2 432.1h0M739.7 437.7h0M736.3 442.2h0M740.8 445.6h0M734.1 450.1h0M737.4 453.5h0M730.7 456.9h0M735.2 460.2h0M728.5 462.5h0M733.0 469.2h0M727.3 472.6h0M730.7 477.1h0M734.1 479.3h0M725.1 482.7h0M729.6 483.8h0" stroke="#000" stroke-width="5.5" stroke-linecap="round" fill="none"/>
<path d="M75.8 5.0v4.5M75.8 259.9v9.0M75.8 523.8v-4.5M104.6 5.0v4.5M104.6 259.9v9.0M104.6 523.8v-4.5M133.4 5.0v4.5M133.4 259.9v9.0M133.4 523.8v-4.5M162.2 5.0v4.5M162.2 259.9v9.0M162.2 523.8v-4.5M47.0 235.6h4.5M176.7 235.6h-4.5M47.0 494.9h4.5M176.7 494.9h-4.5M47.0 177.9h4.5M176.7 177.9h-4.5M47.0 437.3h4.5M176.7 437.3h-4.5M47.0 120.3h4.5M176.7 120.3h-4.5M47.0 379.7h4.5M176.7 379.7h-4.5M47.0 62.6h4.5M176.7 62.6h-4.5M47.0 322.0h4.5M176.7 322.0h-4.5M205.5 5.0v4.5M205.5 259.9v9.0M205.5 523.8v-4.5M234.3 5.0v4.5M234.3 259.9v9.0M234.3 523.8v-4.5M263.1 5.0v4.5M263.1 259.9v9.0M263.1 523.8v-4.5M291.9 5.0v4.5M291.9 259.9v9.0M291.9 523.8v-4.5M176.7 235.6h4.5M306.3 235.6h-4.5M176.7 494.9h4.5M306.3 494.9h-4.5M176.7 177.9h4.5M306.3 177.9h-4.5M176.7 437.3h4.5M306.3 437.3h-4.5M176.7 120.3h4.5M306.3 120.3h-4.5M176.7 379.7h4.5M306.3 379.7h-4.5M176.7 62.6h4.5M306.3 62.6h-4.5M176.7 322.0h4.5M306.3 322.0h-4.5M335.1 5.0v4.5M335.1 259.9v9.0M335.1 523.8v-4.5M363.9 5.0v4.5M363.9 259.9v9.0M363.9 523.8v-4.5M392.8 5.0v4.5M392.8 259.9v9.0M392.8 523.8v-4.5M421.6 5.0v4.5M421.6 259.9v9.0M421.6 523.8v-4.5M306.3 235.6h4.5M436.0 235.6h-4.5M306.3 494.9h4.5M436.0 494.9h-4.5M306.3 177.9h4.5M436.0 177.9h-4.5M306.3 437.3h4.5M436.0 437.3h-4.5M306.3 120.3h4.5M436.0 120.3h-4.5M306.3 379.7h4.5M436.0 379.7h-4.5M306.3 62.6h4.5M436.0 62.6h-4.5M306.3 322.0h4.5M436.0 322.0h-4.5M464.8 5.0v4.5M464.8 259.9v9.0M464.8 523.8v-4.5M493.6 5.0v4.5M493.6 259.9v9.0M493.6 523.8v-4.5M522.4 5.0v4.5M522.4 259.9v9.0M522.4 523.8v-4.5M551.2 5.0v4.5M551.2 259.9v9.0M551.2 523.8v-4.5M436.0 235.6h4.5M565.7 235.6h-4.5M436.0 494.9h4.5M565.7 494.9h-4.5M436.0 177.9h4.5M565.7 177.9h-4.5M436.0 437.3h4.5M565.7 437.3h-4.5M436.0 120.3h4.5M565.7 120.3h-4.5M436.0 379.7h4.5M565.7 379.7h-4.5M436.0 62.6h4.5M565.7 62.6h-4.5M436.0 322.0h4.5M565.7 322.0h-4.5M594.5 5.0v4.5M594.5 259.9v9.0M594.5 523.8v-4.5M623.3 5.0v4.5M623.3 259.9v9.0M623.3 523.8v-4.5M652.1 5.0v4.5M652.1 259.9v9.0M652.1 523.8v-4.5M680.9 5.0v4.5M680.9 259.9v9.0M680.9 523.8v-4.5M565.7 235.6h4.5M695.3 235.6h-4.5M565.7 494.9h4.5M695.3 494.9h-4.5M565.7 177.9h4.5M695.3 177.9h-4.5M565.7 437.3h4.5M695.3 437.3h-4.5M565.7 120.3h4.5M695.3 120.3h-4.5M565.7 379.7h4.5M695.3 379.7h-4.5M565.7 62.6h4.5M695.3 62.6h-4.5M565.7 322.0h4.5M695.3 322.0h-4.5M724.1 5.0v4.5M724.1 259.9v9.0M724.1 523.8v-4.5M753.0 5.0v4.5M753.0 259.9v9.0M753.0 523.8v-4.5M781.8 5.0v4.5M781.8 259.9v9.0M781.8 523.8v-4.5M810.6 5.0v4.5M810.6 259.9v9.0M810.6 523.8v-4.5M695.3 235.6h4.5M825.0 235.6h-4.5M695.3 494.9h4.5M825.0 494.9h-4.5M695.3 177.9h4.5M825.0 177.9h-4.5M695.3 437.3h4.5M825.0 437.3h-4.5M695.3 120.3h4.5M825.0 120.3h-4.5M695.3 379.7h4.5M825.0 379.7h-4.5M695.3 62.6h4.5M825.0 62.6h-4.5M695.3 322.0h4.5M825.0 322.0h-4.5" stroke="#000" stroke-width="1.3" fill="none"/>
<path d="M47.00 5.00H825.00V523.75H47.00ZM47.00 264.40H825.00M176.67 5.00V523.75M306.33 5.00V523.75M436.00 5.00V523.75M565.67 5.00V523.75M695.34 5.00V523.75" stroke="#000" stroke-width="2.2" fill="none" stroke-linejoin="miter"/>
<g font-size="14" opacity="0.999">
<text transform="translate(40.4 10.6) scale(1.0 1.12)" text-anchor="end">4</text>
<text transform="translate(688.9 10.6) scale(1.0 1.12)" text-anchor="end">4</text>
<text transform="translate(40.4 270.0) scale(1.0 1.12)" text-anchor="end">4</text>
<text transform="translate(40.4 68.2) scale(1.0 1.12)" text-anchor="end">3</text>
<text transform="translate(688.9 68.2) scale(1.0 1.12)" text-anchor="end">3</text>
<text transform="translate(40.4 327.6) scale(1.0 1.12)" text-anchor="end">3</text>
<text transform="translate(40.4 125.9) scale(1.0 1.12)" text-anchor="end">2</text>
<text transform="translate(688.9 125.9) scale(1.0 1.12)" text-anchor="end">2</text>
<text transform="translate(40.4 385.3) scale(1.0 1.12)" text-anchor="end">2</text>
<text transform="translate(40.4 183.5) scale(1.0 1.12)" text-anchor="end">1</text>
<text transform="translate(688.9 183.5) scale(1.0 1.12)" text-anchor="end">1</text>
<text transform="translate(40.4 442.9) scale(1.0 1.12)" text-anchor="end">1</text>
<text transform="translate(40.4 241.2) scale(1.0 1.12)" text-anchor="end">0</text>
<text transform="translate(688.9 241.2) scale(1.0 1.12)" text-anchor="end">0</text>
<text transform="translate(40.4 500.5) scale(1.0 1.12)" text-anchor="end">0</text>
<text transform="translate(47.0 543.6) scale(1.0 1.12)" text-anchor="middle">–0.5</text>
<text transform="translate(75.8 543.6) scale(1.0 1.12)" text-anchor="middle">0</text>
<text transform="translate(104.6 543.6) scale(1.0 1.12)" text-anchor="middle">0.5</text>
<text transform="translate(133.4 543.6) scale(1.0 1.12)" text-anchor="middle">1</text>
<text transform="translate(162.2 543.6) scale(1.0 1.12)" text-anchor="middle">1.5</text>
<text transform="translate(205.5 543.6) scale(1.0 1.12)" text-anchor="middle">0</text>
<text transform="translate(234.3 543.6) scale(1.0 1.12)" text-anchor="middle">0.5</text>
<text transform="translate(263.1 543.6) scale(1.0 1.12)" text-anchor="middle">1</text>
<text transform="translate(291.9 543.6) scale(1.0 1.12)" text-anchor="middle">1.5</text>
<text transform="translate(335.1 543.6) scale(1.0 1.12)" text-anchor="middle">0</text>
<text transform="translate(363.9 543.6) scale(1.0 1.12)" text-anchor="middle">0.5</text>
<text transform="translate(392.8 543.6) scale(1.0 1.12)" text-anchor="middle">1</text>
<text transform="translate(421.6 543.6) scale(1.0 1.12)" text-anchor="middle">1.5</text>
<text transform="translate(464.8 543.6) scale(1.0 1.12)" text-anchor="middle">0</text>
<text transform="translate(493.6 543.6) scale(1.0 1.12)" text-anchor="middle">0.5</text>
<text transform="translate(522.4 543.6) scale(1.0 1.12)" text-anchor="middle">1</text>
<text transform="translate(551.2 543.6) scale(1.0 1.12)" text-anchor="middle">1.5</text>
<text transform="translate(594.5 543.6) scale(1.0 1.12)" text-anchor="middle">0</text>
<text transform="translate(623.3 543.6) scale(1.0 1.12)" text-anchor="middle">0.5</text>
<text transform="translate(652.1 543.6) scale(1.0 1.12)" text-anchor="middle">1</text>
<text transform="translate(680.9 543.6) scale(1.0 1.12)" text-anchor="middle">1.5</text>
<text transform="translate(724.1 543.6) scale(1.0 1.12)" text-anchor="middle">0</text>
<text transform="translate(753.0 543.6) scale(1.0 1.12)" text-anchor="middle">0.5</text>
<text transform="translate(781.8 543.6) scale(1.0 1.12)" text-anchor="middle">1</text>
<text transform="translate(810.6 543.6) scale(1.0 1.12)" text-anchor="middle">1.5</text>
<text transform="translate(58.7 287.8) scale(0.97 1.12)" text-anchor="start">chain</text>
<text transform="translate(188.4 287.8) scale(0.97 1.12)" text-anchor="start">clump cluster</text>
<text transform="translate(318.0 287.8) scale(0.97 1.12)" text-anchor="start">double</text>
<text transform="translate(447.7 287.8) scale(0.97 1.12)" text-anchor="start">tadpole</text>
<text transform="translate(577.4 287.8) scale(0.97 1.12)" text-anchor="start">spiral</text>
<text transform="translate(707.0 287.8) scale(0.97 1.12)" text-anchor="start">elliptical</text>
</g>
<g font-size="16" text-anchor="middle" opacity="0.999">
<text transform="translate(111.2 569.2) scale(1.03 1.13)">i<tspan font-size="12.8" dy="4.1">775</tspan><tspan dy="-4.1">–z</tspan><tspan font-size="12.8" dy="4.1">850</tspan></text>
<text transform="translate(240.9 569.2) scale(1.03 1.13)">i<tspan font-size="12.8" dy="4.1">775</tspan><tspan dy="-4.1">–z</tspan><tspan font-size="12.8" dy="4.1">850</tspan></text>
<text transform="translate(370.6 569.2) scale(1.03 1.13)">i<tspan font-size="12.8" dy="4.1">775</tspan><tspan dy="-4.1">–z</tspan><tspan font-size="12.8" dy="4.1">850</tspan></text>
<text transform="translate(500.2 569.2) scale(1.03 1.13)">i<tspan font-size="12.8" dy="4.1">775</tspan><tspan dy="-4.1">–z</tspan><tspan font-size="12.8" dy="4.1">850</tspan></text>
<text transform="translate(629.9 569.2) scale(1.03 1.13)">i<tspan font-size="12.8" dy="4.1">775</tspan><tspan dy="-4.1">–z</tspan><tspan font-size="12.8" dy="4.1">850</tspan></text>
<text transform="translate(759.6 569.2) scale(1.03 1.13)">i<tspan font-size="12.8" dy="4.1">775</tspan><tspan dy="-4.1">–z</tspan><tspan font-size="12.8" dy="4.1">850</tspan></text>
<text transform="translate(17.1 134.7) rotate(-90) scale(1.03 1.13)">B<tspan font-size="12.8" dy="4.1">435</tspan><tspan dy="-4.1">–V</tspan><tspan font-size="12.8" dy="4.1">606</tspan></text>
<text transform="translate(17.1 393.8) rotate(-90) scale(1.03 1.13)">V<tspan font-size="12.8" dy="4.1">606</tspan><tspan dy="-4.1">–i</tspan><tspan font-size="12.8" dy="4.1">775</tspan></text>
</g>
</svg></body></html>
